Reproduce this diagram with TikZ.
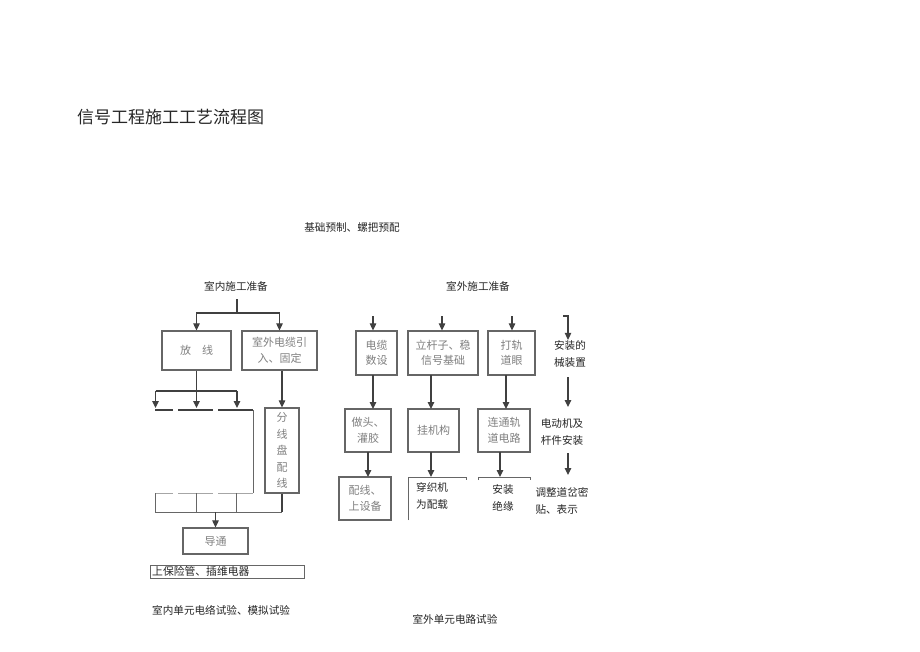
\documentclass[tikz,border=0pt]{standalone}
\usepackage{fontspec}
\setmainfont{Noto Sans CJK SC}
\usetikzlibrary{arrows.meta}
\newcommand{\fsbox}{\fontsize{11}{15.5}\selectfont}
\newcommand{\fslbl}{\fontsize{10.6}{17}\selectfont}
\tikzset{
  box/.style={draw=black!60, line width=1.2pt, text=black!50, align=center, inner sep=0pt, font=\fsbox},
  lbl/.style={text=black!85, inner sep=0pt, align=center, font=\fslbl},
  con/.style={draw=black!75, line width=1.1pt},
  arr/.style={con, -{Triangle[length=7pt,width=6.5pt]}},
  thin/.style={draw=black!60, line width=1pt},
}
\begin{document}
\begin{tikzpicture}[x=1pt,y=-1pt]
\useasboundingbox[fill=white] (0,0) rectangle (920,651);

% title and free labels
\node[anchor=west, inner sep=0pt, text=black!85, font=\fontsize{17}{20}\selectfont] (title) at (77,117) {信号工程施工工艺流程图};
\node[lbl] (jc) at (352,227) {基础预制、螺把预配};
\node[lbl] (inprep) at (236,286) {室内施工准备};
\node[lbl] (outprep) at (478,286) {室外施工准备};

% left boxes
\node[box, minimum width=69, minimum height=39] (fx) at (196.5,350.5) {放\quad 线};
\node[box, minimum width=75, minimum height=39] (ydl) at (279.5,350.5) {室外电缆引\\入、固定};
\node[box, minimum width=34, minimum height=85, font=\fontsize{11}{16.5}\selectfont] (fxp) at (282,450.5) {分\\线\\盘\\配\\线};
\node[box, minimum width=65, minimum height=26] (dt) at (215.5,541) {导通};
\node[box, minimum width=154, minimum height=13, text=black!85, line width=0.8pt] (bx) at (227,571.5) {};
\node[anchor=west, inner sep=0pt, text=black!85, font=\fontsize{10.8}{14}\selectfont] (bxt) at (152,571.5) {上保险管、插维电器};
\node[lbl, anchor=west] (insy) at (152,610) {室内单元电络试验、模拟试验};

% left connectors
\coordinate (inTop) at (237,299);
\coordinate (inJ) at (237,313);
\draw[con] (inTop) -- (inJ);
\draw[arr] (inJ) -| (fx.north);
\draw[arr] (inJ) -| (ydl.north);

\coordinate (sp) at (196.5,391);
\coordinate (sL) at (155.5,391);
\coordinate (sR) at (237,391);
\coordinate (tL) at (155.5,408);
\coordinate (tM) at (196.5,408);
\coordinate (tR) at (237,408);
\draw[con] (fx.south) -- (sp);
\draw[con] (sL) -- (sR);
\draw[arr] (sL) -- (tL);
\draw[arr] (sp) -- (tM);
\draw[arr] (sR) -- (tR);

% gapped top line of the frame
\coordinate (u1) at (155,410); \coordinate (u2) at (173,410);
\coordinate (u3) at (178,410); \coordinate (u4) at (213,410);
\coordinate (u5) at (218,410); \coordinate (u6) at (253,410);
\coordinate (d6) at (253,493);
\draw[con, line width=1.4pt] (u1) -- (u2);
\draw[con, line width=1.4pt] (u3) -- (u4);
\draw[con, line width=1.4pt] (u5) -- (u6);
\draw[thin] (u6) -- (d6);
\coordinate (l1) at (155,493); \coordinate (l2) at (173,493);
\coordinate (l3) at (178,493); \coordinate (l4) at (213,493);
\coordinate (l5) at (218,493);
\draw[draw=black!35, line width=0.8pt] (l1) -- (l2) (l3) -- (l4) (l5) -- (d6);

% bottom cells
\coordinate (c1) at (155,493); \coordinate (c1b) at (155,512);
\coordinate (c2) at (196,493); \coordinate (c2b) at (196,512);
\coordinate (c3) at (236,493); \coordinate (c3b) at (236,512);
\coordinate (c4b) at (282,512);
\draw[thin] (c1) -- (c1b) (c2) -- (c2b) (c3) -- (c3b);
\draw[thin] (c1b) -- (c4b);
\draw[con] (fxp.south) -- (c4b);
\draw[arr] (ydl.south -| fxp.north) -- (fxp.north);
\draw[arr] (dt.north |- c1b) -- (dt.north);

% right boxes row 1
\node[box, minimum width=41, minimum height=44] (dl) at (376.5,353) {电缆\\数设};
\node[box, minimum width=70, minimum height=44] (lgz) at (443,353) {立杆子、稳\\信号基础};
\node[box, minimum width=47, minimum height=44] (dgy) at (511.5,353) {打轨\\道眼};
% row 2
\node[box, minimum width=46, minimum height=43] (ztg) at (368,430.5) {做头、\\灌胶};
\node[box, minimum width=51, minimum height=43] (gjg) at (433.5,430.5) {挂机构};
\node[box, minimum width=52, minimum height=43] (ltg) at (504,430.5) {连通轨\\道电路};
% row 3
\node[box, minimum width=52, minimum height=43] (pxs) at (365,498.5) {配线、\\上设备};
\node[lbl, anchor=north west, align=left, text=black!85, font=\fontsize{10.6}{17}\selectfont] (czj) at (416,482) {穿织机\\为配载};
\node[lbl, text=black!85] (azjy) at (503,498) {安装\\绝缘};

% right connectors row 1
\coordinate (r1) at (373,316); \coordinate (r2) at (442,316); \coordinate (r3) at (512,316);
\draw[arr] (r1) -- (r1 |- dl.north);
\draw[arr] (r2) -- (r2 |- lgz.north);
\draw[arr] (r3) -- (r3 |- dgy.north);
% row 1 -> row 2
\draw[arr] (373,375) -- (373,409);
\draw[arr] (431,375) -- (431,409);
\draw[arr] (506,375) -- (506,409);
% row 2 -> row 3
\draw[arr] (368,452) -- (368,477);
\draw[arr] (431,452) -- (431,477);
\draw[arr] (500,452) -- (500,477);
% open brackets
\draw[thin] (408,520) -- (408,477) -- (466,477) -- (466,480);
\draw[thin] (478,480) -- (478,477) -- (530,477) -- (530,480);

% far right column
\node[lbl] (azd) at (570,353.5) {安装的\\械装置};
\node[lbl] (ddj) at (562,431.5) {电动机及\\杆件安装};
\node[lbl, align=left] (tzd) at (562,500.5) {调整道岔密\\贴、表示};
\coordinate (h0) at (563,316); \coordinate (h1) at (568,316);
\draw[arr] (h0) -- (h1) -- (h1 |- azd.north);
\draw[arr] (568,377) -- (568,407);
\draw[arr] (568,453) -- (568,475);

\node[lbl] (outsy) at (455,619) {室外单元电路试验};
\end{tikzpicture}
\end{document}
